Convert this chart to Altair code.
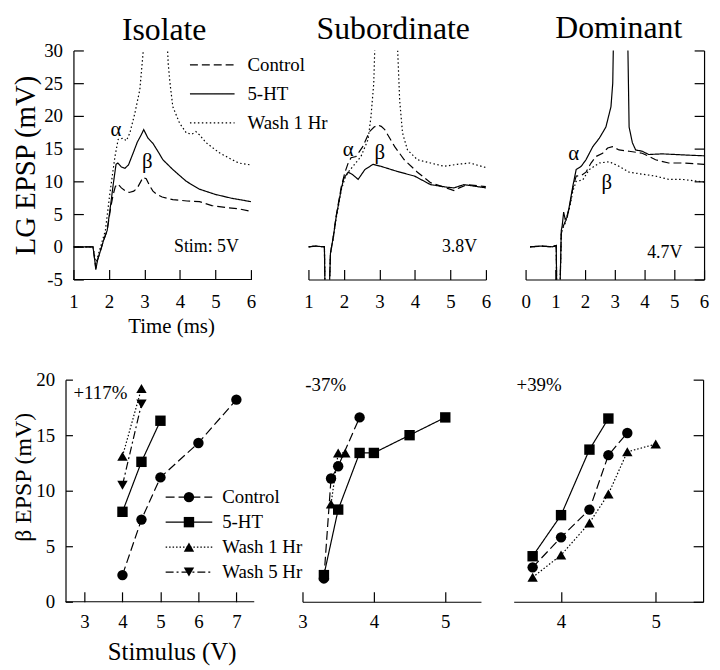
import altair as alt
import pandas as pd

FONT = "Liberation Serif"

PANELS = ["Isolate", "Subordinate", "Dominant"]
TRACES = ["Control", "5-HT", "Wash 1 Hr"]
SERIES = ["Control", "5-HT", "Wash 1 Hr", "Wash 5 Hr"]

# ---------------- top row: LG EPSP traces, time (ms) vs potential (mV) ----------------
iso_ctrl_t = [1.0, 1.3, 1.55, 1.6, 1.63, 1.68, 1.75, 1.85, 1.95, 2.05, 2.12, 2.18, 2.25, 2.35, 2.45, 2.57,
              2.7, 2.8, 2.9, 2.96, 3.05, 3.15, 3.24, 3.35, 3.5, 3.8, 4.2, 4.55, 4.9, 5.3, 5.66, 6.0]
iso_ctrl_v = [0, 0, 0, -2, -3.3, -2, -0.8, 1.0, 2.5, 6.0, 8.0, 9.2, 9.6, 9.0, 8.6, 8.3,
              8.5, 9.0, 10.0, 10.6, 10.4, 9.3, 8.5, 8.0, 7.6, 7.2, 7.0, 6.9, 6.3, 6.0, 5.8, 5.4]
iso_5ht_t = [1.0, 1.3, 1.55, 1.6, 1.63, 1.68, 1.75, 1.85, 1.95, 2.05, 2.12, 2.2, 2.25, 2.35, 2.45,
             2.55, 2.68, 2.8, 2.9, 2.98, 3.1, 3.24, 3.4, 3.52, 3.8, 4.18, 4.55, 5.0, 5.47, 6.0]
iso_5ht_v = [0, 0, 0, -2, -3.5, -2, -0.8, 1.0, 2.5, 6.5, 9.5, 12.6, 12.8, 12.2, 12.0,
             12.5, 14.3, 16.0, 17.0, 17.9, 16.6, 15.8, 14.4, 13.3, 11.8, 10.0, 8.8, 8.0, 7.4, 6.9]
iso_wash_t = [1.0, 1.3, 1.55, 1.6, 1.63, 1.7, 1.78, 1.9, 2.03, 2.17, 2.26, 2.4, 2.49, 2.59, 2.73, 2.87,
              2.96, 3.03, 3.6, 3.67, 3.72, 3.8, 3.99, 4.18, 4.33, 4.45, 4.55, 4.74, 5.1, 5.47, 5.66, 6.0]
iso_wash_v = [0, 0, 0, -1.5, -2.6, -1.2, 0.3, 2.5, 8.3, 13.8, 16.4, 16.6, 16.2, 17.4, 20.4, 24.0,
              29.5, 36, 36, 28, 25, 21.4, 18.9, 17.4, 17.2, 17.6, 17.1, 15.9, 14.4, 13.3, 12.8, 12.5]

sub_ctrl_t = [1.0, 1.2, 1.45, 1.47, 1.58, 1.62, 1.7, 1.78, 1.93, 2.03, 2.12, 2.2, 2.34, 2.53, 2.72,
              2.85, 2.96, 3.05, 3.15, 3.3, 3.43, 3.7, 4.07, 4.44, 4.82, 5.1, 5.25, 5.47, 6.0]
sub_ctrl_v = [0, 0.1, 0, -8, -8, -1, 1.5, 4.7, 9.3, 11.4, 12.8, 13.6, 13.8, 15.3, 17.6,
              18.3, 18.6, 18.4, 17.9, 16.5, 15.3, 13.3, 11.4, 9.8, 9.1, 8.6, 9.0, 9.5, 9.2]
sub_5ht_t = [1.0, 1.2, 1.45, 1.47, 1.58, 1.62, 1.7, 1.78, 1.93, 2.0, 2.12, 2.25, 2.4, 2.59, 2.82,
             3.04, 3.51, 3.99, 4.44, 4.91, 5.1, 5.38, 6.0]
sub_5ht_v = [0, 0.1, 0, -8, -8, -1, 1.5, 4.5, 9.0, 10.5, 11.4, 11.0, 10.3, 11.8, 12.6,
             12.3, 11.5, 10.8, 9.5, 9.1, 9.0, 9.5, 9.0]
sub_wash_t = [1.0, 1.2, 1.45, 1.47, 1.58, 1.62, 1.7, 1.78, 1.93, 2.03, 2.12, 2.3, 2.48, 2.68, 2.76,
              2.84, 2.9, 3.47, 3.57, 3.65, 3.79, 4.07, 4.44, 4.82, 5.19, 5.55, 6.0]
sub_wash_v = [0, 0.1, 0, -8, -8, -1, 1.3, 4.3, 8.8, 10.5, 11.4, 12.6, 13.8, 16.4, 19.8,
              25.0, 36, 36, 22.4, 17.4, 14.8, 13.3, 12.8, 12.3, 12.6, 12.8, 12.1]

dom_ctrl_t = [0.15, 0.5, 0.9, 1.03, 1.05, 1.15, 1.2, 1.25, 1.35, 1.47, 1.59, 1.7, 1.87, 2.03, 2.2,
              2.37, 2.59, 2.76, 2.92, 3.14, 3.48, 3.92, 4.37, 4.81, 5.26, 6.0]
dom_ctrl_v = [0, 0.1, 0, 0.2, -8, -8, 2.0, 3.0, 4.0, 6.0, 9.0, 10.8, 10.9, 11.4, 12.8,
              13.8, 14.3, 15.1, 15.3, 14.8, 14.6, 14.3, 13.3, 12.8, 12.8, 12.6]
dom_5ht_t = [0.15, 0.5, 0.9, 1.03, 1.05, 1.15, 1.2, 1.23, 1.28, 1.33, 1.4, 1.47, 1.59, 1.7, 1.87,
             2.03, 2.26, 2.48, 2.7, 2.87, 2.93, 2.97, 3.42, 3.48, 3.59, 3.7, 3.92, 4.14, 4.59, 5.03, 5.48, 6.0]
dom_5ht_v = [0, 0.1, 0, 0.2, -8, -8, 2.5, 3.2, 5.3, 4.2, 4.5, 6.2, 9.3, 11.8, 12.3,
             13.3, 15.3, 16.6, 18.3, 21.4, 25.0, 36, 36, 18.3, 15.9, 14.8, 14.6, 14.1, 14.2, 14.1, 14.0, 13.9]
dom_wash_t = [0.15, 0.5, 0.9, 1.03, 1.05, 1.15, 1.2, 1.25, 1.35, 1.47, 1.59, 1.7, 1.92, 2.14, 2.48,
              2.81, 3.14, 3.48, 3.92, 4.37, 4.81, 5.26, 6.0]
dom_wash_v = [0, 0.1, 0, 0.2, -8, -8, 2.0, 2.8, 3.8, 5.8, 8.5, 10.0, 10.2, 11.8, 12.8,
              13.0, 12.3, 11.4, 11.1, 10.8, 10.3, 10.3, 9.9]

TOP_T = [[iso_ctrl_t, iso_5ht_t, iso_wash_t],
         [sub_ctrl_t, sub_5ht_t, sub_wash_t],
         [dom_ctrl_t, dom_5ht_t, dom_wash_t]]
TOP_V = [[iso_ctrl_v, iso_5ht_v, iso_wash_v],
         [sub_ctrl_v, sub_5ht_v, sub_wash_v],
         [dom_ctrl_v, dom_5ht_v, dom_wash_v]]

TOP_Y_TICKS = [-5, 0, 5, 10, 15, 20, 25, 30]
TOP_X_TICKS = [[1, 2, 3, 4, 5, 6], [1, 2, 3, 4, 5, 6], [0, 1, 2, 3, 4, 5, 6]]

GREEK = ["α", "β"]
alpha_t = [2.2, 2.12, 1.62]
alpha_v = [17.9, 14.8, 14.2]
beta_t = [3.08, 3.01, 2.73]
beta_v = [12.9, 14.3, 9.8]
STIM_LABELS = ["Stim: 5V", "3.8V", "4.7V"]
stim_t = [5.66, 5.75, 5.27]
stim_v = [0.0, 0.0, -0.9]

# ---------------- bottom row: beta EPSP (mV) vs stimulus (V) ----------------
iso_ctrl_s = [4, 4.5, 5, 6, 7]
iso_ctrl_e = [2.4, 7.4, 11.2, 14.3, 18.2]
iso_5ht_s = [4, 4.5, 5]
iso_5ht_e = [8.1, 12.6, 16.3]
iso_w1_s = [4, 4.5]
iso_w1_e = [13.1, 19.2]
iso_w5_s = [4, 4.5]
iso_w5_e = [10.5, 17.8]

sub_ctrl_s = [3.3, 3.4, 3.5, 3.8]
sub_ctrl_e = [2.1, 11.1, 12.2, 16.6]
sub_5ht_s = [3.3, 3.5, 3.8, 4.0, 4.5, 5.0]
sub_5ht_e = [2.4, 8.3, 13.4, 13.4, 15.0, 16.6]
sub_w1_s = [3.4, 3.5, 3.6]
sub_w1_e = [8.8, 13.4, 13.4]

dom_ctrl_s = [3.7, 4.0, 4.3, 4.5, 4.7]
dom_ctrl_e = [3.1, 5.8, 8.3, 13.2, 15.2]
dom_5ht_s = [3.7, 4.0, 4.3, 4.5]
dom_5ht_e = [4.1, 7.8, 13.7, 16.5]
dom_w1_s = [3.7, 4.0, 4.3, 4.5, 4.7, 5.0]
dom_w1_e = [2.2, 4.2, 7.1, 9.7, 13.5, 14.2]

BOT_S = [[iso_ctrl_s, iso_5ht_s, iso_w1_s, iso_w5_s],
         [sub_ctrl_s, sub_5ht_s, sub_w1_s, []],
         [dom_ctrl_s, dom_5ht_s, dom_w1_s, []]]
BOT_E = [[iso_ctrl_e, iso_5ht_e, iso_w1_e, iso_w5_e],
         [sub_ctrl_e, sub_5ht_e, sub_w1_e, []],
         [dom_ctrl_e, dom_5ht_e, dom_w1_e, []]]

BOT_X_TICKS = [[3, 4, 5, 6, 7], [3, 4, 5], [4, 5]]
BOT_Y_TICKS = [0, 5, 10, 15, 20]
PCT_LABELS = ["+117%", "-37%", "+39%"]
pct_s = [2.71, 3.04, 3.53]
pct_e = [18.8, 19.5, 19.5]

# ---------------- layout / style ----------------
TOP_W = [197, 179, 180]
TOP_H = 231
TOP_XDOM = [[1, 6.503], [1, 6], [0, 6]]
TOP_YDOM = [-5, 30]
ISO_T_LINE = [1, 6]
TITLE_OFFSET = ["-5", "5", "5"]
TITLE_DX = [-7, -4, 4]
BOT_W = [198, 180, 191]
BOT_H = 224
BOT_XDOM = [[2.709, 7.879], [3, 5.5], [3.5, 5.5]]
BOT_YDOM = [0, 20]
ISO_S_LINE = [2.5, 7.47]

TOP_DASH = [[8, 4], [1, 0], [1.5, 2.5]]
BOT_DASH = [[9, 4], [1, 0], [1.5, 2], [8, 3, 2, 3]]
SHAPES = ["circle", "square", "triangle-up", "triangle-down"]
MARKER_KEYS = [s + " marker" for s in SERIES]
TOP_KEY_PATH = "M-4.5,0H4.5"
BOT_KEY_PATH = "M-4.7,0H4.7"

NUM = "'' + datum.value"


def neg(n):
    return alt.ExprRef(expr=f"-{n}")


def top_panel(i):
    rows = []
    for name, ts, vs in zip(TRACES, TOP_T[i], TOP_V[i]):
        for t, v in zip(ts, vs):
            rows.append({"t": t, "v": v, "series": name})
    df = pd.DataFrame(rows)

    xaxis = dict(values=TOP_X_TICKS[i], tickSize=neg(10), labelPadding=23, labelExpr=NUM,
                 domain=(i != 0), labelFontSize=19, labelFont=FONT)
    if i == 0:
        xaxis.update(title="Time (ms)", titleFontSize=21, titlePadding=4, titleFont=FONT)
    else:
        xaxis.update(title=None)
    x = alt.X("t:Q", scale=alt.Scale(domain=TOP_XDOM[i], nice=False, zero=False), axis=alt.Axis(**xaxis))
    yscale = alt.Scale(domain=TOP_YDOM, nice=False, zero=False)
    if i == 0:
        y = alt.Y("v:Q", scale=yscale,
                  axis=alt.Axis(values=TOP_Y_TICKS, title="LG EPSP (mV)", titleFontSize=29, titlePadding=3,
                                titleFont=FONT, tickSize=neg(10), labelPadding=21, labelExpr=NUM,
                                labelFontSize=19, labelFont=FONT))
    elif i == 1:
        y = alt.Y("v:Q", scale=yscale, axis=None)
    else:
        y = alt.Y("v:Q", scale=yscale,
                  axis=alt.Axis(orient="right", values=TOP_Y_TICKS, labels=False, title=None, tickSize=neg(10)))

    if i == 0:
        legend = alt.Legend(orient="none", legendX=130.5, legendY=5, title=None, direction="vertical",
                            symbolType=TOP_KEY_PATH, symbolSize=100, symbolStrokeWidth=1.2,
                            symbolStrokeColor="black", labelFontSize=19, labelFont=FONT, labelOffset=26,
                            rowPadding=9.3, padding=0,
                            labelExpr="datum.label == '5-HT' ? '\u00a05-HT' : datum.label")
    else:
        legend = None

    lines = alt.Chart(df).mark_line(clip=True, color="black", strokeWidth=1.2).encode(
        x=x, y=y,
        strokeDash=alt.StrokeDash("series:N", scale=alt.Scale(domain=TRACES, range=TOP_DASH), legend=legend))

    gdf = pd.DataFrame({"t": [alpha_t[i], beta_t[i]], "v": [alpha_v[i], beta_v[i]], "label": GREEK})
    greek = alt.Chart(gdf).mark_text(font=FONT, fontSize=21, color="black").encode(x=x, y=y, text="label:N")
    sdf = pd.DataFrame({"t": [stim_t[i]], "v": [stim_v[i]], "label": [STIM_LABELS[i]]})
    stim = alt.Chart(sdf).mark_text(font=FONT, fontSize=18, color="black", align="right").encode(
        x=x, y=y, text="label:N")
    layers = [lines, greek, stim]
    if i == 0:
        adf = pd.DataFrame({"t": [ISO_T_LINE[0]], "t2": [ISO_T_LINE[1]], "v": [TOP_YDOM[0]]})
        layers.append(alt.Chart(adf).mark_rule(color="black", strokeWidth=1.2).encode(
            x=x, x2=alt.X2("t2:Q"), y=y))
    title = alt.TitleParams(PANELS[i], fontSize=32, font=FONT, fontWeight="normal", color="black",
                            anchor="middle", frame="group", offset=alt.ExprRef(expr=TITLE_OFFSET[i]),
                            dx=TITLE_DX[i])
    return alt.layer(*layers).properties(width=TOP_W[i], height=TOP_H, title=title)


def bot_panel(i):
    rows = []
    for k, (name, ss, es) in enumerate(zip(SERIES, BOT_S[i], BOT_E[i])):
        for s, e in zip(ss, es):
            rows.append({"s": s, "e": e, "series": name, "mk": MARKER_KEYS[k]})
    df = pd.DataFrame(rows)

    xaxis = dict(values=BOT_X_TICKS[i], tickSize=neg(10), labelPadding=21, labelExpr=NUM,
                 domain=(i != 0), labelFontSize=19, labelFont=FONT)
    if i == 0:
        xaxis.update(title="Stimulus (V)", titleFontSize=25, titlePadding=8, titleFont=FONT)
    else:
        xaxis.update(title=None)
    x = alt.X("s:Q", scale=alt.Scale(domain=BOT_XDOM[i], nice=False, zero=False), axis=alt.Axis(**xaxis))
    yscale = alt.Scale(domain=BOT_YDOM, nice=False, zero=False)
    if i == 0:
        y = alt.Y("e:Q", scale=yscale,
                  axis=alt.Axis(values=BOT_Y_TICKS, title="β EPSP (mV)", titleFontSize=24, titlePadding=0,
                                titleFont=FONT, titleY=98, offset=8, tickSize=neg(7), labelPadding=18,
                                labelExpr=NUM, labelFontSize=19, labelFont=FONT))
    elif i == 1:
        y = alt.Y("e:Q", scale=yscale, axis=None)
    else:
        y = alt.Y("e:Q", scale=yscale,
                  axis=alt.Axis(orient="right", values=BOT_Y_TICKS, labels=False, title=None, tickSize=neg(10)))

    if i == 0:
        line_legend = alt.Legend(orient="none", legendX=107, legendY=109, title=None, direction="vertical",
                                 symbolType=BOT_KEY_PATH, symbolSize=100, symbolStrokeWidth=1.2,
                                 symbolStrokeColor="black", labelFontSize=19, labelFont=FONT,
                                 labelOffset=24, rowPadding=5.2, padding=0)
        shape_legend = alt.Legend(orient="none", legendX=107, legendY=109, title=None, direction="vertical",
                                  symbolSize=110, symbolFillColor="black", symbolStrokeColor="black",
                                  symbolStrokeWidth=0, labelExpr="''", labelFontSize=19, labelFont=FONT,
                                  labelOffset=24, rowPadding=5.2, padding=0)
    else:
        line_legend = None
        shape_legend = None

    lines = alt.Chart(df).mark_line(color="black", strokeWidth=1.2).encode(
        x=x, y=y,
        strokeDash=alt.StrokeDash("series:N", scale=alt.Scale(domain=SERIES, range=BOT_DASH),
                                  legend=line_legend))
    points = alt.Chart(df).mark_point(filled=True, size=110, color="black", opacity=1).encode(
        x=x, y=y,
        shape=alt.Shape("mk:N", scale=alt.Scale(domain=MARKER_KEYS, range=SHAPES), legend=shape_legend))
    pdf = pd.DataFrame({"s": [pct_s[i]], "e": [pct_e[i]], "label": [PCT_LABELS[i]]})
    pct = alt.Chart(pdf).mark_text(font=FONT, fontSize=19, color="black", align="left").encode(
        x=x, y=y, text="label:N")
    layers = [lines, points, pct]
    if i == 0:
        adf = pd.DataFrame({"s": [ISO_S_LINE[0]], "s2": [ISO_S_LINE[1]], "e": [BOT_YDOM[0]]})
        layers.append(alt.Chart(adf).mark_rule(color="black", strokeWidth=1.2).encode(
            x=x, x2=alt.X2("s2:Q"), y=y))
    return alt.layer(*layers).properties(width=BOT_W[i], height=BOT_H)


top_row = alt.hconcat(*[top_panel(i) for i in range(3)], spacing=40, bounds="flush").resolve_scale(
    strokeDash="independent")
bot_row = alt.hconcat(*[bot_panel(i) for i in range(3)], spacing=33, bounds="flush").resolve_scale(
    strokeDash="independent", shape="independent")

chart = alt.vconcat(top_row, bot_row, spacing=33).resolve_scale(
    strokeDash="independent", shape="independent"
).properties(
    padding={"left": 3, "top": 0, "right": 2, "bottom": 2}, background="white"
).configure_view(
    stroke="transparent"
).configure_axis(
    labelFont=FONT, titleFont=FONT, labelColor="black", titleColor="black", titleFontWeight="normal",
    domainColor="black", tickColor="black", domainWidth=1.2, tickWidth=1.2, grid=False,
    labelFlush=False, labelOverlap=False
).configure_legend(
    labelFont=FONT, labelColor="black"
).configure_text(
    font=FONT
)

chart.save("out.html", embed_options={"renderer": "svg", "actions": False})
